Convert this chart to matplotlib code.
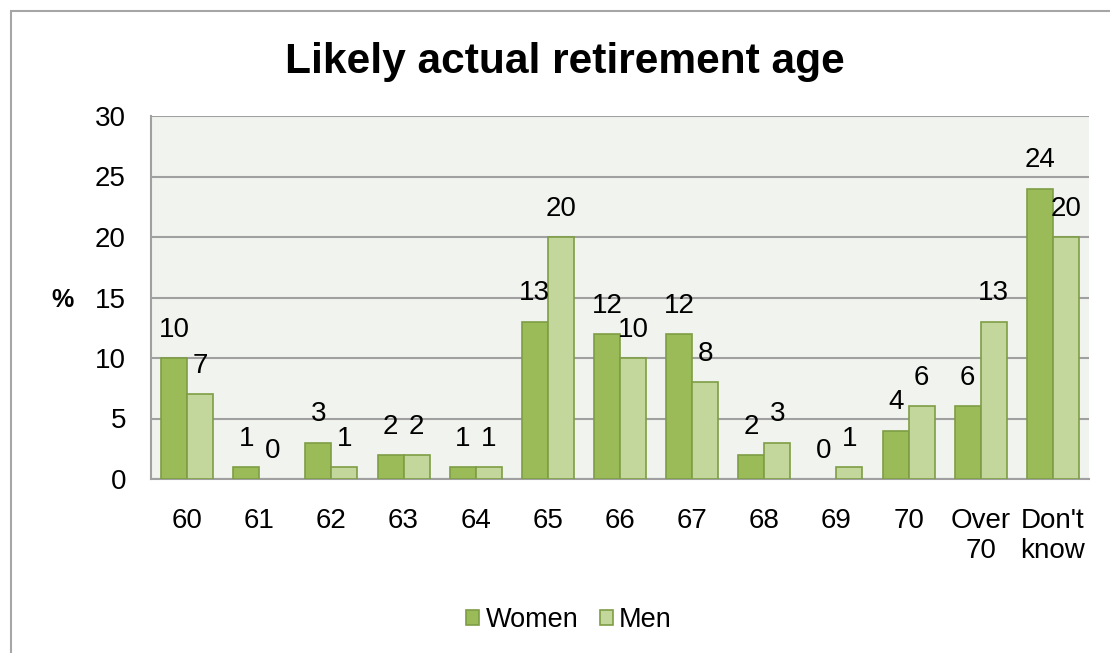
import numpy as np
import matplotlib.pyplot as plt
from matplotlib.patches import Rectangle

plt.rcParams["font.family"] = ["Liberation Sans", "DejaVu Sans"]

categories = ["60", "61", "62", "63", "64", "65", "66", "67", "68", "69", "70",
              "Over\n70", "Don't\nknow"]
women = [10, 1, 3, 2, 1, 13, 12, 12, 2, 0, 4, 6, 24]
men = [7, 0, 1, 2, 1, 20, 10, 8, 3, 1, 6, 13, 20]

c_women = "#9BBB59"
c_men = "#C3D69B"
c_edge = "#7E9D45"

fig = plt.figure(figsize=(11.1, 6.53), dpi=100)
ax = fig.add_axes([151 / 1110, 1 - 479 / 653, 938 / 1110, 363 / 653])

# outer chart frame (runs off the right and bottom edge)
fig.patches.append(Rectangle((11 / 1110, -0.1), 1.2, 1 - 11 / 653 + 0.1,
                             transform=fig.transFigure, fill=False,
                             edgecolor="#A6A6A6", linewidth=1.5))

x = np.arange(len(categories))
w = 0.36
b1 = ax.bar(x - w / 2, women, w, color=c_women, edgecolor=c_edge,
            linewidth=1.2, label="Women", zorder=3)
b2 = ax.bar(x + w / 2, men, w, color=c_men, edgecolor=c_edge,
            linewidth=1.2, label="Men", zorder=3)

for bars, vals in ((b1, women), (b2, men)):
    for bar, v in zip(bars, vals):
        if v == 0:
            bar.set_linewidth(0)
        ax.annotate(str(v), (bar.get_x() + bar.get_width() / 2, v),
                    xytext=(0, 11), textcoords="offset points",
                    ha="center", va="bottom", fontsize=20)

ax.set_facecolor("#F1F4EE")
ax.set_xlim(-0.5, len(categories) - 0.5)
ax.set_ylim(0, 30)
ax.set_yticks(range(0, 31, 5))
ax.set_xticks(x)
ax.set_xticklabels(categories, fontsize=20, linespacing=1.2)
ax.tick_params(axis="y", labelsize=20, length=0, pad=18)
ax.tick_params(axis="x", length=0, pad=21)
ax.grid(axis="y", color="#A0A0A0", linewidth=1.5, zorder=0)
ax.set_axisbelow(True)
for s in ("top", "right"):
    ax.spines[s].set_visible(False)
for s in ("left", "bottom"):
    ax.spines[s].set_color("#A0A0A0")
    ax.spines[s].set_linewidth(1.5)

fig.text(62 / 1110, 1 - 300 / 653, "%", fontsize=18, fontweight="bold",
         ha="center", va="center")
fig.text(565 / 1110, 1 - 62 / 653, "Likely actual retirement age",
         fontsize=30.6, fontweight="bold", ha="center", va="center")

fig.legend(handles=[b1, b2], loc="center", bbox_to_anchor=(569 / 1110, 1 - 620 / 653),
           ncol=2, frameon=False, fontsize=19.5, handlelength=0.48,
           handleheight=0.48, handletextpad=0.22, columnspacing=0.8)

fig.savefig("out.png", dpi=100)
